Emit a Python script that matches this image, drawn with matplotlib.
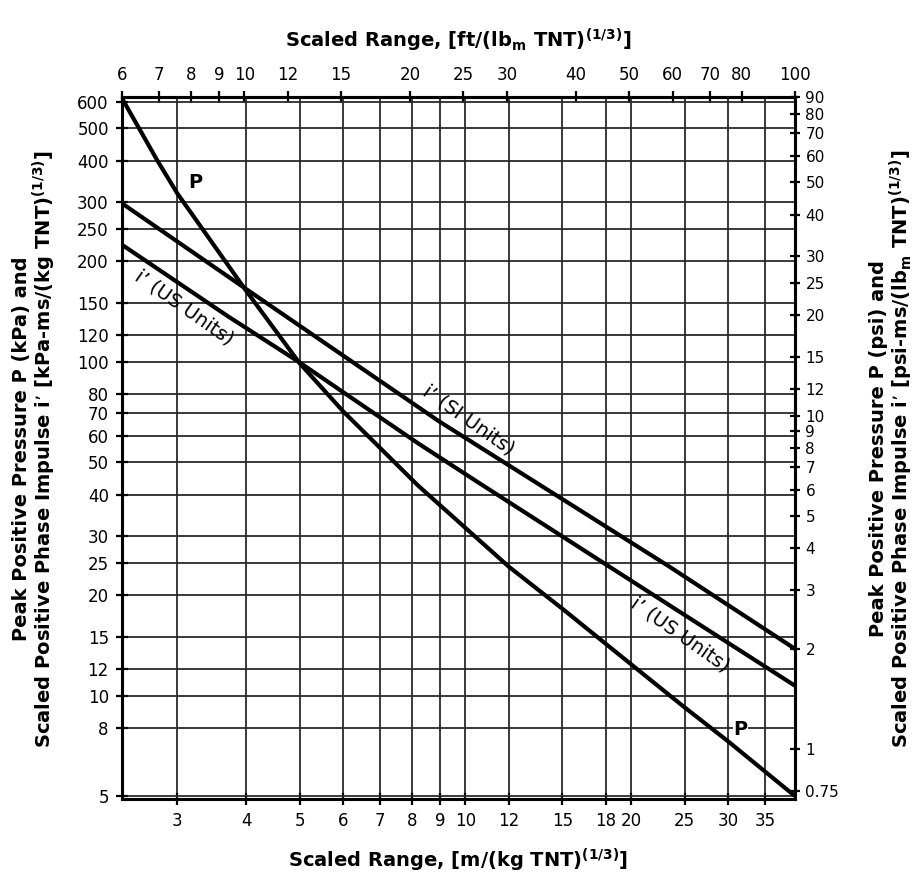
import numpy as np
import matplotlib
matplotlib.use("Agg")
import matplotlib.pyplot as plt
from matplotlib.ticker import NullLocator

plt.rcParams['font.family'] = ['DejaVu Sans']
plt.rcParams['mathtext.fontset'] = 'dejavusans'

# unit conversions
M_PER_FT = 0.3048 / 0.45359237 ** (1 / 3)   # ft/lb^(1/3) -> m/kg^(1/3)
KPA_PER_PSI = 6.894757

# curves: scaled range in m/(kg TNT)^(1/3), values in kPa
p_range = [2.38, 2.76, 3.0, 4.0, 5.0, 6.0, 8.2, 12, 15, 20, 25, 30, 39.67]
p_kpa = [615, 400, 319, 163, 99, 71, 42.6, 24.3, 18.2, 12.4, 9.22, 7.29, 5.0]

si_range = [2.38, 4.0, 8.93, 23.4, 39.67]
si_imp = [298, 165, 66.5, 24.4, 13.8]

us_range = [2.38, 3.7, 5.0, 8.2, 10.55, 23.4, 39.67]
us_imp = [224, 137, 99.5, 57, 43.5, 18.7, 10.7]

# tick values
bottom_ticks = [3, 4, 5, 6, 7, 8, 9, 10, 12, 15, 18, 20, 25, 30, 35]
top_ticks = [6, 7, 8, 9, 10, 12, 15, 20, 25, 30, 40, 50, 60, 70, 80, 100]
left_ticks = [5, 8, 10, 12, 15, 20, 25, 30, 40, 50, 60, 70, 80, 100, 120, 150,
              200, 250, 300, 400, 500, 600]
right_ticks = [0.75, 1, 2, 3, 4, 5, 6, 7, 8, 9, 10, 12, 15, 20, 25, 30, 40, 50,
               60, 70, 80, 90]

fig = plt.figure(figsize=(9.2, 8.82), dpi=100)
ax = fig.add_axes([122 / 920, 1 - 799 / 882, (795 - 122) / 920, (799 - 97) / 882])
ax.set_xscale('log')
ax.set_yscale('log')
ax.set_xlim(6 * M_PER_FT, 100 * M_PER_FT)
ax.set_ylim(4.9, 90 * KPA_PER_PSI)

for xs, ys in [(p_range, p_kpa), (si_range, si_imp), (us_range, us_imp)]:
    ax.plot(xs, ys, color='black', lw=3, solid_capstyle='butt',
            solid_joinstyle='round')

ax.set_xticks(bottom_ticks, [str(t) for t in bottom_ticks])
ax.set_yticks(left_ticks, [str(t) for t in left_ticks])
ax.xaxis.set_minor_locator(NullLocator())
ax.yaxis.set_minor_locator(NullLocator())
ax.grid(True, which='major', color='#2a2a2a', lw=1.3)
ax.tick_params(direction='inout', length=9, width=1.6, labelsize=12,
               color='black', pad=5)
for s in ax.spines.values():
    s.set_linewidth(2.2)

top = ax.secondary_xaxis('top', functions=(lambda x: x / M_PER_FT,
                                           lambda x: x * M_PER_FT))
top.set_xticks(top_ticks, [str(t) for t in top_ticks])
top.xaxis.set_minor_locator(NullLocator())
top.tick_params(direction='inout', length=9, width=1.6, labelsize=12, pad=5)
top.spines['top'].set_linewidth(2.2)

right = ax.secondary_yaxis('right', functions=(lambda y: y / KPA_PER_PSI,
                                               lambda y: y * KPA_PER_PSI))
right.set_yticks(right_ticks, [str(t) for t in right_ticks])
right.yaxis.set_minor_locator(NullLocator())
right.tick_params(direction='inout', length=7, width=1.6, labelsize=11, pad=4)
right.spines['right'].set_linewidth(2.2)

# curve labels
ax.text(3.23, 344, 'P', fontsize=14, fontweight='bold', ha='center', va='center')
ax.text(31.6, 7.9, 'P', fontsize=14, fontweight='bold', ha='center', va='center',
        bbox=dict(facecolor='white', edgecolor='none', pad=0.5))
ax.text(3.09, 145, 'i’ (US Units)', fontsize=14, rotation=-35,
        ha='center', va='center', rotation_mode='anchor')
ax.text(10.15, 66.9, 'i’ (SI Units)', fontsize=14, rotation=-35,
        ha='center', va='center', rotation_mode='anchor')
ax.text(24.55, 15.2, 'i’ (US Units)', fontsize=14, rotation=-35,
        ha='center', va='center', rotation_mode='anchor')

# axis titles
fig.text(0.498, 1 - 40 / 882,
         r'Scaled Range, [ft/(lb$_\mathbf{m}$ TNT)$^{\mathbf{(1/3)}}$]',
         fontsize=14, fontweight='bold', ha='center', va='center')
fig.text(0.498, 1 - 860 / 882,
         r'Scaled Range, [m/(kg TNT)$^{\mathbf{(1/3)}}$]',
         fontsize=14, fontweight='bold', ha='center', va='center')
fig.text(35 / 920, 1 - 449 / 882,
         'Peak Positive Pressure P (kPa) and\n'
         r'Scaled Positive Phase Impulse i’ [kPa-ms/(kg TNT)$^{\mathbf{(1/3)}}$]',
         fontsize=14, fontweight='bold', rotation=90, ha='center', va='center',
         multialignment='center', linespacing=1.0)
fig.text(892 / 920, 1 - 449 / 882,
         'Peak Positive Pressure P (psi) and\n'
         r'Scaled Positive Phase Impulse i’ [psi-ms/(lb$_\mathbf{m}$ TNT)$^{\mathbf{(1/3)}}$]',
         fontsize=14, fontweight='bold', rotation=90, ha='center', va='center',
         multialignment='center', linespacing=1.0)

fig.savefig('out.png', dpi=100, facecolor='white')
